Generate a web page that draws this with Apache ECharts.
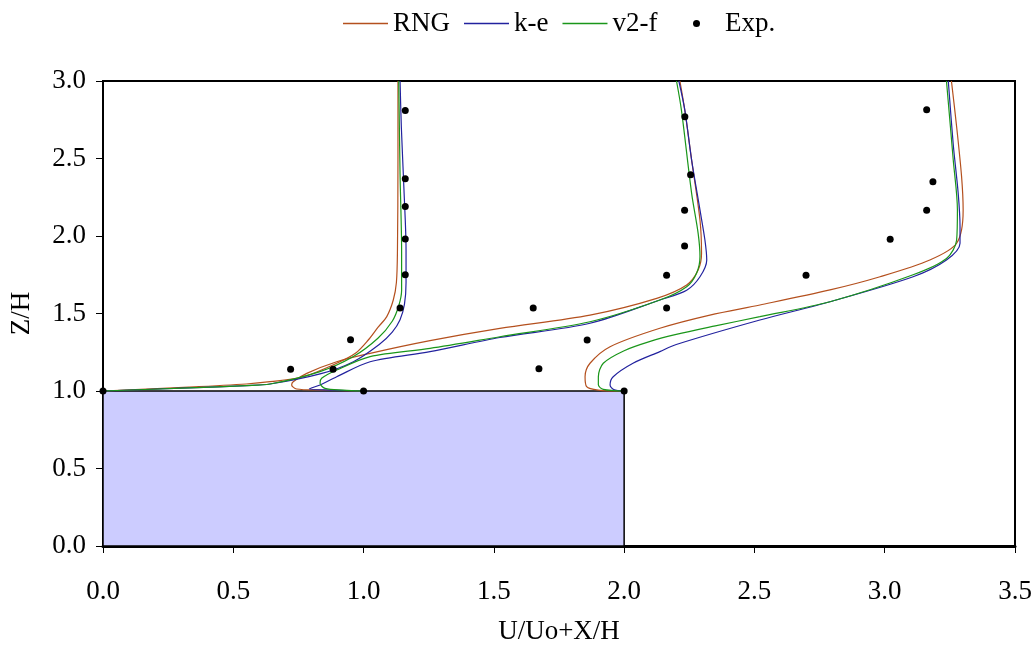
<!DOCTYPE html>
<html><head><meta charset="utf-8">
<script src="https://cdn.jsdelivr.net/npm/echarts@6/dist/echarts.min.js"></script>
<style>html,body{margin:0;padding:0;background:#fff}#c{width:1035px;height:646px}</style>
</head><body><div id="c"></div>
<script>
// Block (obstacle) extents in data units
const blockX = [0, 2];
const blockY = [0, 1];

// RNG profiles at X/H = 0, 1, 2
const rng1 = [[0,1.0],[0.33,1.025],[0.55,1.045],[0.641,1.06],[0.769,1.092],[0.897,1.179],[0.97,1.245],[1.018,1.329],[1.055,1.41],[1.089,1.48],[1.114,1.587],[1.126,1.7],[1.13,1.9],[1.132,2.5],[1.132,3.0]];
const rng2 = [[1.0,1.0],[0.833,1.006],[0.743,1.013],[0.724,1.039],[0.73,1.06],[0.782,1.114],[0.897,1.189],[1.025,1.243],[1.255,1.325],[1.523,1.404],[1.869,1.49],[2.125,1.598],[2.24,1.684],[2.284,1.78],[2.297,1.888],[2.291,2.103],[2.259,2.49],[2.233,2.81],[2.214,3.0]];
const rng3 = [[2.0,1.0],[1.9,1.006],[1.856,1.028],[1.85,1.092],[1.869,1.179],[1.946,1.286],[2.137,1.405],[2.329,1.49],[2.521,1.555],[2.79,1.652],[2.982,1.737],[3.173,1.845],[3.276,1.953],[3.301,2.168],[3.295,2.383],[3.276,2.705],[3.256,3.0]];

// k-e profiles
const ke1 = [[0,1.0],[0.33,1.02],[0.55,1.035],[0.641,1.045],[0.833,1.11],[0.961,1.189],[1.06,1.3],[1.11,1.38],[1.14,1.46],[1.157,1.56],[1.163,1.7],[1.163,1.91],[1.155,2.3],[1.145,2.7],[1.14,3.0]];
const ke2 = [[1.0,1.0],[0.871,1.006],[0.792,1.013],[0.833,1.039],[0.897,1.092],[1.025,1.189],[1.255,1.254],[1.523,1.345],[1.869,1.437],[2.137,1.587],[2.24,1.65],[2.291,1.737],[2.317,1.845],[2.31,1.974],[2.291,2.168],[2.259,2.49],[2.233,2.81],[2.21,3.0]];
const ke3 = [[2.0,1.0],[1.96,1.01],[1.946,1.039],[1.958,1.092],[2.034,1.179],[2.137,1.254],[2.2,1.3],[2.521,1.458],[2.79,1.576],[3.109,1.737],[3.237,1.845],[3.289,1.953],[3.289,2.06],[3.282,2.275],[3.263,2.59],[3.244,3.0]];

// v2-f profiles
const v2f1 = [[0,1.0],[0.33,1.02],[0.55,1.035],[0.641,1.045],[0.833,1.125],[0.961,1.222],[1.055,1.34],[1.11,1.45],[1.135,1.55],[1.146,1.65],[1.146,1.9],[1.14,2.4],[1.135,3.0]];
const v2f2 = [[1.0,1.0],[0.922,1.006],[0.852,1.017],[0.833,1.05],[0.839,1.082],[0.897,1.135],[1.025,1.222],[1.255,1.275],[1.523,1.35],[1.869,1.447],[2.137,1.587],[2.24,1.673],[2.278,1.76],[2.291,1.867],[2.284,2.017],[2.259,2.275],[2.22,2.81],[2.201,3.0]];
const v2f3 = [[2.0,1.0],[1.92,1.01],[1.901,1.04],[1.901,1.092],[1.92,1.179],[2.0,1.26],[2.1,1.32],[2.2,1.365],[2.35,1.42],[2.521,1.48],[2.79,1.576],[3.109,1.75],[3.237,1.855],[3.276,1.974],[3.279,2.168],[3.263,2.49],[3.237,3.0]];

// Experimental points
const expData = [[0,1.0],[0.72,1.14],[0.883,1.14],[0.95,1.33],[1.0,1.0],[1.14,1.535],[1.16,1.75],[1.16,1.98],[1.16,2.19],[1.16,2.37],[1.16,2.81],
  [1.673,1.144],[1.858,1.329],[1.651,1.535],[2.163,1.535],[2.163,1.746],[2.232,1.935],[2.232,2.166],[2.255,2.395],[2.233,2.77],
  [2.0,1.0],[2.698,1.746],[3.021,1.979],[3.161,2.166],[3.185,2.35],[3.161,2.815]];

const xTicks = ['0.0','0.5','1.0','1.5','2.0','2.5','3.0','3.5'];
const yTicks = ['0.0','0.5','1.0','1.5','2.0','2.5','3.0'];

const colors = {RNG:'#B4501E', 'k-e':'#22229E', 'v2-f':'#1A961A'};
const FONT = 'Liberation Serif';
const FS = 27;
const lineIcon = 'path://M0,0 L45,0 L45,1.4 L0,1.4 Z';

function lineSeries(name, data){
  return {name, type:'line', data, smooth:0.3, symbol:'none', showSymbol:false,
    lineStyle:{color:colors[name], width:1.2}, itemStyle:{color:colors[name]}, z:3, animation:false};
}

const chart = echarts.init(document.getElementById('c'));
chart.setOption({
  animation:false,
  textStyle:{fontFamily:FONT},
  legend:[{
    top:5, left:338, itemWidth:45, itemHeight:7, itemGap:14,
    textStyle:{fontFamily:FONT, fontSize:FS, color:'#000'},
    data:[{name:'RNG', icon:lineIcon},{name:'k-e', icon:lineIcon},{name:'v2-f', icon:lineIcon}]
  },{
    top:5, left:688, itemWidth:7, itemHeight:7,
    textStyle:{fontFamily:FONT, fontSize:FS, color:'#000', padding:[0,0,0,20]},
    data:[{name:'Exp.', icon:'circle'}]
  }],
  grid:{left:103, right:20, top:81, bottom:100, containLabel:false, outerBoundsMode:'none',
    show:true, borderColor:'#000', borderWidth:2, backgroundColor:'transparent'},
  xAxis:{type:'value', min:0, max:3.5, interval:0.5,
    name:'U/Uo+X/H', nameLocation:'middle', nameGap:72,
    nameTextStyle:{fontFamily:FONT, fontSize:FS, color:'#000'},
    axisLine:{show:true, onZero:false, lineStyle:{color:'#000', width:3}},
    axisTick:{show:true, inside:false, length:7, lineStyle:{color:'#000', width:1}},
    axisLabel:{fontFamily:FONT, fontSize:FS, color:'#000', margin:32, formatter:(v)=>xTicks[Math.round(v/0.5)]},
    splitLine:{show:false}},
  yAxis:{type:'value', min:0, max:3, interval:0.5,
    name:'Z/H', nameLocation:'middle', nameGap:68, nameRotate:90,
    nameTextStyle:{fontFamily:FONT, fontSize:FS, color:'#000'},
    axisLine:{show:true, onZero:false, lineStyle:{color:'#000', width:2}},
    axisTick:{show:true, inside:false, length:7, lineStyle:{color:'#000', width:1}},
    axisLabel:{fontFamily:FONT, fontSize:FS, color:'#000', margin:17, formatter:(v)=>yTicks[Math.round(v/0.5)]},
    splitLine:{show:false}},
  series:[
    {name:'block', type:'line', data:[[blockX[0],blockY[0]],[blockX[1],blockY[1]]], symbol:'none',
      lineStyle:{opacity:0}, z:1, silent:true,
      markArea:{silent:true, itemStyle:{color:'#CCCCFF', borderColor:'#000', borderWidth:1.5, opacity:1},
        data:[[{coord:[blockX[0],blockY[0]]},{coord:[blockX[1],blockY[1]]}]]}},
    lineSeries('RNG', rng1), lineSeries('RNG', rng2), lineSeries('RNG', rng3),
    lineSeries('k-e', ke1), lineSeries('k-e', ke2), lineSeries('k-e', ke3),
    lineSeries('v2-f', v2f1), lineSeries('v2-f', v2f2), lineSeries('v2-f', v2f3),
    {name:'Exp.', type:'scatter', data:expData, symbol:'circle', symbolSize:7, itemStyle:{color:'#000', opacity:1}, z:5}
  ]
});
</script></body></html>
